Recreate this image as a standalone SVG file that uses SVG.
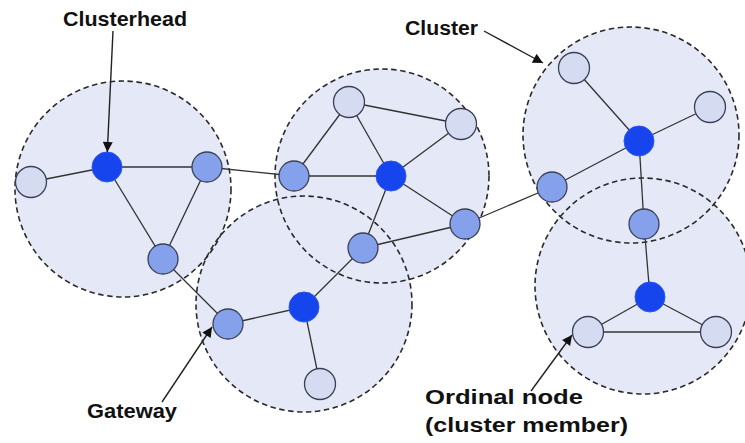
<svg xmlns="http://www.w3.org/2000/svg" width="745" height="443" viewBox="0 0 745 443">
<defs>
<style>
.cf{fill:#e5e9f7;stroke:none}
.cs{fill:none;stroke:#2a2a2a;stroke-width:1.6;stroke-dasharray:5.5 3.5}
.e{stroke:#333;stroke-width:1.3;fill:none}
.hd{fill:#1645ee;stroke:#2a55f0;stroke-width:1}
.gw{fill:#86a1ec;stroke:#3a3f55;stroke-width:1.3}
.mb{fill:#d5dcf2;stroke:#3a3f55;stroke-width:1.3}
.lbl{font-family:"Liberation Sans",Arial,sans-serif;font-weight:bold;fill:#111}
.ar{stroke:#222;stroke-width:1.4;fill:none}
</style>
<marker id="ah" viewBox="0 0 10 10" refX="10" refY="5" markerWidth="12" markerHeight="10" markerUnits="userSpaceOnUse" orient="auto">
<path d="M0,0 L10,5 L0,10 z" fill="#111"/>
</marker>
</defs>
<rect width="745" height="443" fill="#ffffff"/>
<g id="clusters">
<circle class="cf" cx="123" cy="189" r="108"/>
<circle class="cf" cx="382" cy="176" r="107"/>
<circle class="cf" cx="304" cy="304" r="108"/>
<circle class="cf" cx="631" cy="135" r="108"/>
<circle class="cf" cx="643" cy="286" r="108"/>
<circle class="cs" cx="123" cy="189" r="108"/>
<circle class="cs" cx="382" cy="176" r="107"/>
<circle class="cs" cx="304" cy="304" r="108"/>
<circle class="cs" cx="631" cy="135" r="108"/>
<circle class="cs" cx="643" cy="286" r="108"/>
</g>
<g id="connectors">
<line class="e" x1="31" y1="182" x2="107" y2="167"/>
<line class="e" x1="107" y1="167" x2="207" y2="167"/>
<line class="e" x1="107" y1="167" x2="163" y2="259"/>
<line class="e" x1="207" y1="167" x2="163" y2="259"/>
<line class="e" x1="163" y1="259" x2="228" y2="324"/>
<line class="e" x1="207" y1="167" x2="294" y2="176"/>
<line class="e" x1="228" y1="324" x2="304" y2="307"/>
<line class="e" x1="304" y1="307" x2="320" y2="384"/>
<line class="e" x1="304" y1="307" x2="363" y2="248"/>
<line class="e" x1="363" y1="248" x2="391" y2="176"/>
<line class="e" x1="363" y1="248" x2="465" y2="224"/>
<line class="e" x1="294" y1="176" x2="349" y2="102"/>
<line class="e" x1="294" y1="176" x2="391" y2="176"/>
<line class="e" x1="349" y1="102" x2="391" y2="176"/>
<line class="e" x1="349" y1="102" x2="461" y2="124"/>
<line class="e" x1="461" y1="124" x2="391" y2="176"/>
<line class="e" x1="391" y1="176" x2="465" y2="224"/>
<line class="e" x1="465" y1="224" x2="552" y2="187"/>
<line class="e" x1="552" y1="187" x2="639" y2="141"/>
<line class="e" x1="574" y1="68" x2="639" y2="141"/>
<line class="e" x1="710" y1="107" x2="639" y2="141"/>
<line class="e" x1="639" y1="141" x2="644" y2="224"/>
<line class="e" x1="644" y1="224" x2="650" y2="297"/>
<line class="e" x1="650" y1="297" x2="588" y2="332"/>
<line class="e" x1="650" y1="297" x2="716" y2="332"/>
<line class="e" x1="588" y1="332" x2="716" y2="332"/>
</g>
<g id="n1"><circle class="mb" cx="31" cy="182" r="15.5"/></g>
<g id="n2"><circle class="hd" cx="107" cy="167" r="15"/></g>
<g id="n3"><circle class="gw" cx="207" cy="167" r="15"/></g>
<g id="n4"><circle class="gw" cx="163" cy="259" r="15"/></g>
<g id="n5"><circle class="gw" cx="228" cy="324" r="15"/></g>
<g id="n6"><circle class="hd" cx="304" cy="307" r="15"/></g>
<g id="n7"><circle class="mb" cx="320" cy="384" r="15.5"/></g>
<g id="n8"><circle class="gw" cx="363" cy="248" r="15"/></g>
<g id="n9"><circle class="gw" cx="294" cy="176" r="15"/></g>
<g id="n10"><circle class="mb" cx="349" cy="102" r="15.5"/></g>
<g id="n11"><circle class="mb" cx="461" cy="124" r="15.5"/></g>
<g id="n12"><circle class="hd" cx="391" cy="176" r="15"/></g>
<g id="n13"><circle class="gw" cx="465" cy="224" r="15"/></g>
<g id="n14"><circle class="gw" cx="552" cy="187" r="15"/></g>
<g id="n15"><circle class="mb" cx="574" cy="68" r="15.5"/></g>
<g id="n16"><circle class="mb" cx="710" cy="107" r="15.5"/></g>
<g id="n17"><circle class="hd" cx="639" cy="141" r="15"/></g>
<g id="n18"><circle class="gw" cx="644" cy="224" r="15"/></g>
<g id="n19"><circle class="hd" cx="650" cy="297" r="15"/></g>
<g id="n20"><circle class="mb" cx="588" cy="332" r="15.5"/></g>
<g id="n21"><circle class="mb" cx="716" cy="332" r="15.5"/></g>
<g id="labels">
<text class="lbl" x="63" y="26" font-size="21" textLength="124" lengthAdjust="spacingAndGlyphs">Clusterhead</text>
<line class="ar" x1="113" y1="31" x2="107.3" y2="152" marker-end="url(#ah)"/>
<text class="lbl" x="405" y="35" font-size="20" textLength="73" lengthAdjust="spacingAndGlyphs">Cluster</text>
<line class="ar" x1="484" y1="31" x2="543" y2="63" marker-end="url(#ah)"/>
<text class="lbl" x="87" y="418" font-size="20" textLength="90" lengthAdjust="spacingAndGlyphs">Gateway</text>
<line class="ar" x1="162" y1="402" x2="212" y2="327" marker-end="url(#ah)"/>
<text class="lbl" x="425" y="404" font-size="20" textLength="158" lengthAdjust="spacingAndGlyphs">Ordinal node</text>
<text class="lbl" x="425" y="432" font-size="20" textLength="203" lengthAdjust="spacingAndGlyphs">(cluster member)</text>
<line class="ar" x1="531" y1="391" x2="572" y2="335" marker-end="url(#ah)"/>
</g>
</svg>
